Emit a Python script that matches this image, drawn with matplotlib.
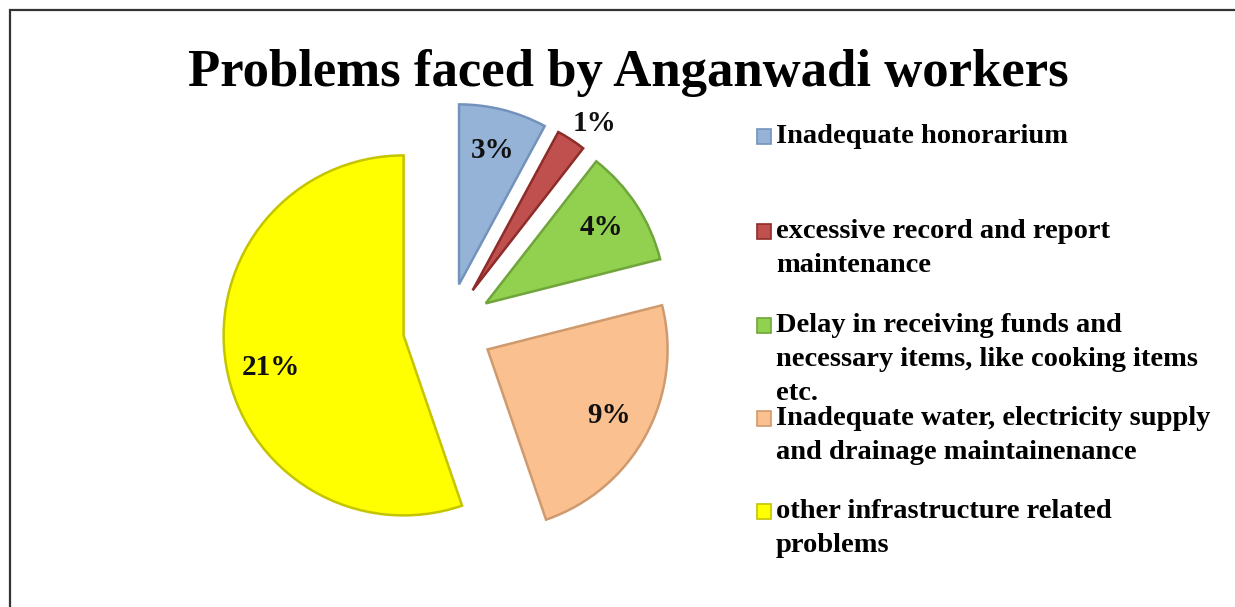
import numpy as np
import matplotlib
matplotlib.use("Agg")
import matplotlib.pyplot as plt
from matplotlib.patches import Rectangle

# ---- data ----
categories = [
    "Inadequate honorarium",
    "excessive record and report\nmaintenance",
    "Delay in receiving funds and\nnecessary items, like cooking items\netc.",
    "Inadequate water, electricity supply\nand drainage maintainenance",
    "other infrastructure related\nproblems",
]
values = [3, 1, 4, 9, 21]
title = "Problems faced by Anganwadi workers"

colors = ["#95B3D7", "#C0504D", "#92D050", "#FAC090", "#FFFF00"]
edges = ["#7393BD", "#8E2C2A", "#6FA53A", "#CF9A6E", "#C4C400"]

W, H = 1235, 607
fig = plt.figure(figsize=(W / 100, H / 100), dpi=100)
fig.patch.set_facecolor("white")

serif = ["Liberation Serif", "DejaVu Serif"]

# outer chart border (only left/top visible in the crop)
fig.add_artist(Rectangle((9.5 / W, -0.1), 1.2, 1.1 - 9.5 / H, transform=fig.transFigure,
                         fill=False, edgecolor="#333333", linewidth=1.6))

# pie axes: 1 data unit = 180 px, pie center at pixel (448, 328 from top)
unit = 180.0
cx, cy = 448, 328
ax = fig.add_axes([0, 0, 1, 1])
wedges, texts = ax.pie(
    values,
    startangle=90,
    counterclock=False,
    explode=[0.25] * len(values),
    colors=colors,
    radius=1.0,
    wedgeprops=dict(linewidth=1.8),
)
for w, ec in zip(wedges, edges):
    w.set_edgecolor(ec)

# value labels
for i, (w, v) in enumerate(zip(wedges, values)):
    mid = np.deg2rad((w.theta1 + w.theta2) / 2)
    if v == min(values):
        d, mid = 1.15, mid - np.deg2rad(3)
    elif v == max(values):
        d, mid = 0.76, mid + np.deg2rad(4)
    else:
        d = 0.77
    x = w.center[0] + d * w.r * np.cos(mid)
    y = w.center[1] + d * w.r * np.sin(mid)
    ax.text(x, y, f"{v}%", ha="center", va="center", fontsize=21,
            fontweight="bold", family=serif, color="#111111")

ax.set_xlim(-cx / unit, (W - cx) / unit)
ax.set_ylim(-(H - cy) / unit, cy / unit)
ax.set_aspect("auto")
ax.axis("off")

# title
fig.text(628 / W, 1 - 86 / H, title, ha="center", va="baseline",
         fontsize=38, fontweight="bold", family=serif, color="black")

# legend (manual)
first_baselines = [143, 238, 332, 425, 518]
line_gap = 34
text_x = 776
for lab, col, ec, yb in zip(categories, colors, edges, first_baselines):
    fig.add_artist(Rectangle((757 / W, 1 - (yb + 1) / H), 14 / W, 15 / H,
                             transform=fig.transFigure, facecolor=col,
                             edgecolor=ec, linewidth=1.2))
    for j, line in enumerate(lab.split("\n")):
        fig.text(text_x / W, 1 - (yb + j * line_gap) / H, line, ha="left",
                 va="baseline", fontsize=20.5, fontweight="bold", family=serif,
                 color="black")

fig.savefig("out.png", dpi=100, facecolor="white")
